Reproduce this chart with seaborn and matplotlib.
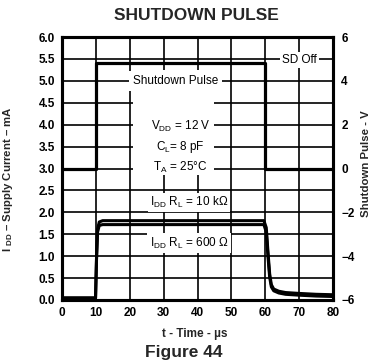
import matplotlib
matplotlib.use("Agg")
import matplotlib.pyplot as plt
import seaborn as sns
import pandas as pd
from matplotlib.patches import Rectangle

# Supply current, two load resistances (mA vs microseconds)
t_idd = [0, 9.9, 10.2, 10.5, 11.0, 12.0, 59.6, 60.3, 60.8, 61.3, 61.8, 62.5, 64.0, 66.0, 70.0, 75.0, 80.0]
idd_10k = [0.05, 0.05, 1.00, 1.62, 1.78, 1.81, 1.81, 1.65, 1.10, 0.60, 0.35, 0.25, 0.20, 0.17, 0.15, 0.13, 0.12]
idd_600 = [0.04, 0.04, 0.95, 1.55, 1.70, 1.72, 1.72, 1.55, 1.00, 0.52, 0.30, 0.21, 0.16, 0.13, 0.11, 0.09, 0.08]

# Shutdown pulse (V vs microseconds)
t_sd = [0, 10, 10, 60, 60, 80]
v_sd = [0, 0, 4.8, 4.8, 0, 0]

x_ticks = [0, 10, 20, 30, 40, 50, 60, 70, 80]
left_ticks = [0.0, 0.5, 1.0, 1.5, 2.0, 2.5, 3.0, 3.5, 4.0, 4.5, 5.0, 5.5, 6.0]
right_ticks = [-6, -4, -2, 0, 2, 4, 6]

sns.set_theme(style="white")
plt.rcParams["font.family"] = ["Liberation Sans", "DejaVu Sans"]
plt.rcParams["mathtext.fontset"] = "custom"
plt.rcParams["mathtext.rm"] = "Liberation Sans"
plt.rcParams["mathtext.it"] = "Liberation Sans"
plt.rcParams["mathtext.bf"] = "Liberation Sans:bold"

W, H = 373, 362
fig = plt.figure(figsize=(W / 100, H / 100), dpi=100)
x0, x1, y0, y1 = 62, 333, 37, 300
ax = fig.add_axes([x0 / W, 1 - y1 / H, (x1 - x0) / W, (y1 - y0) / H])

df = pd.DataFrame({"t": t_idd * 2,
                   "idd": idd_10k + idd_600,
                   "load": ["10k"] * len(t_idd) + ["600"] * len(t_idd)})
sns.lineplot(data=df, x="t", y="idd", units="load", estimator=None, sort=False,
             color="black", lw=2.2, ax=ax, zorder=5)

ax.set_xlim(0, 80)
ax.set_ylim(0, 6)
ax.set_xticks(x_ticks)
ax.set_yticks(left_ticks)
ax.set_xticklabels([str(v) for v in x_ticks])
ax.set_yticklabels([f"{v:.1f}" for v in left_ticks])
ax.grid(True, color="black", lw=1.2, zorder=1)
ax.set_axisbelow(True)
for s in ax.spines.values():
    s.set_color("black")
    s.set_linewidth(2.2)
    s.set_zorder(6)
ax.tick_params(axis="both", length=0, labelsize=8.5, colors="black")
ax.tick_params(axis="x", pad=5)
ax.tick_params(axis="y", pad=5)
for lab in ax.get_xticklabels() + ax.get_yticklabels():
    lab.set_fontweight("bold")

ax2 = ax.twinx()
sd = pd.DataFrame({"t": t_sd, "v": v_sd})
sns.lineplot(data=sd, x="t", y="v", estimator=None, sort=False, errorbar=None,
             color="black", lw=2.3, ax=ax2, zorder=5)
ax2.set_ylim(-6, 6)
ax2.set_yticks(right_ticks)
ax2.set_yticklabels([str(v).replace("-", "\u2212") for v in right_ticks])
ax2.tick_params(axis="y", length=0, labelsize=8.5, pad=6, colors="black")
for lab in ax2.get_yticklabels():
    lab.set_fontweight("bold")
for s in ax2.spines.values():
    s.set_linewidth(2.2)
    s.set_color("black")
ax2.grid(False)

ax.set_xlabel("t - Time - \u00b5s", fontsize=8.5, fontweight="bold")
ax.xaxis.set_label_coords(0.49, -0.105)
ax.set_ylabel("I $_{\\mathbf{DD}}$ \u2013 Supply Current \u2013 mA",
              fontsize=8.2, fontweight="bold")
ax.yaxis.set_label_coords(-0.172, 0.46)
ax2.set_ylabel("Shutdown Pulse - V", fontsize=8.2, fontweight="bold")
ax2.yaxis.set_label_coords(1.105, 0.52)

# White panel behind the test conditions
ax.add_patch(Rectangle((21, 2.85), 24, 2.4, facecolor="white", edgecolor="none", zorder=2))

box = dict(facecolor="white", edgecolor="none", pad=1.5)
txt = dict(fontsize=8.5, ha="center", va="center", color="black", zorder=3)
ax.text(33.5, 5.0, "Shutdown Pulse", bbox=dict(facecolor="white", edgecolor="none", pad=3), **txt)
ax.text(70.0, 5.47, "SD Off", bbox=box, **txt)
ax.text(35.0, 3.97, r"V$_{\mathrm{DD}}$ = 12 V", **txt)
ax.text(35.0, 3.5, r"C$_{\mathrm{L}}$= 8 pF", **txt)
ax.text(35.0, 3.02, r"T$_{\mathrm{A}}$ = 25°C", **txt)
ax.text(37.5, 2.22, r"I$_{\mathrm{DD}}$ R$_{\mathrm{L}}$ = 10 k$\Omega$", bbox=box, **txt)
ax.text(37.5, 1.3, r"I$_{\mathrm{DD}}$ R$_{\mathrm{L}}$ = 600 $\Omega$", bbox=box, **txt)

fig.text(196 / W, 1 - 15 / H, "SHUTDOWN PULSE", fontsize=12.5, fontweight="bold",
         ha="center", va="center")
fig.text(184 / W, 1 - 352 / H, "Figure 44", fontsize=12.5, fontweight="bold",
         ha="center", va="center")

fig.savefig("out.png", dpi=100)
